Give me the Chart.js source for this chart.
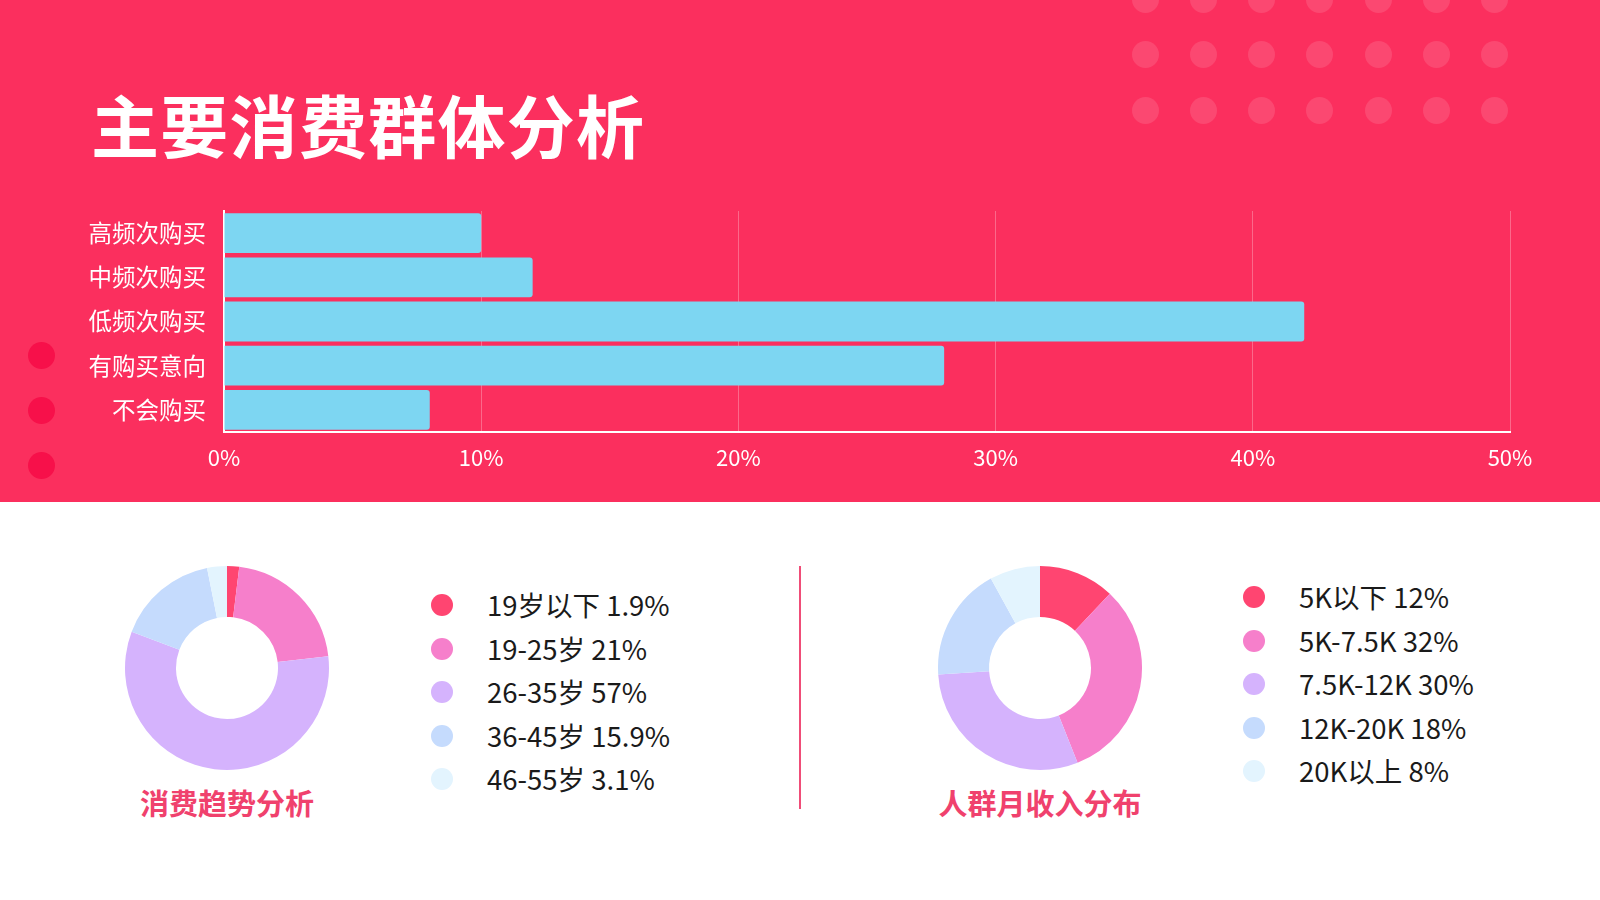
<!DOCTYPE html>
<html>
<head>
<meta charset="utf-8">
<script src="https://cdn.jsdelivr.net/npm/chart.js@4/dist/chart.umd.min.js"></script>
<style>
    html, body { margin: 0; padding: 0; }
    body {
        width: 1600px; height: 900px; position: relative; overflow: hidden;
        background: #ffffff;
        font-family: "Noto Sans CJK SC", "Noto Sans", sans-serif;
    }
    #band { position: absolute; left: 0; top: 0; width: 1600px; height: 502px; background: #fb2f5e; }
    #title {
        position: absolute; left: 91px; top: 79px; margin: 0;
        font-size: 68px; font-weight: 700; color: #ffffff; letter-spacing: 1.3px; line-height: 90px;
    }
    .dot { position: absolute; border-radius: 50%; }
    #barWrap { position: absolute; left: 0; top: 0; width: 1600px; height: 502px; }
    .donutWrap { position: absolute; width: 210px; height: 210px; }
    .donutTitle {
        position: absolute; width: 300px; text-align: center;
        font-size: 29px; font-weight: 700; color: #f0416d; line-height: 36px;
    }
    .legend { position: absolute; margin: 0; padding: 0; list-style: none; }
    .legend li {
        position: relative; height: 43.5px; line-height: 43.5px;
        font-size: 27.5px; color: #1a1a1a; padding-left: 56px; white-space: nowrap;
    }
    .legend li span {
        position: absolute; left: 0; top: 11px; width: 22px; height: 22px; border-radius: 50%;
    }
    #divider { position: absolute; left: 799px; top: 566px; width: 2px; height: 243px; background: #f04d78; }
</style>
</head>
<body>
<div id="band"></div>
<div id="dots"></div>
<h1 id="title">主要消费群体分析</h1>
<div id="barWrap"><canvas id="barChart"></canvas></div>

<div class="donutWrap" style="left:122px; top:563px;"><canvas id="ageChart"></canvas></div>
<div class="donutTitle" style="left:77px; top:784px;">消费趋势分析</div>
<ul class="legend" id="ageLegend" style="left:431px; top:583px;"></ul>

<div id="divider"></div>

<div class="donutWrap" style="left:935px; top:563px;"><canvas id="incomeChart"></canvas></div>
<div class="donutTitle" style="left:890px; top:784px;">人群月收入分布</div>
<ul class="legend" id="incomeLegend" style="left:1243px; top:575px;"></ul>

<script>
// 购买频次
var buyLabels = ['高频次购买', '中频次购买', '低频次购买', '有购买意向', '不会购买'];
var buyValues = [10, 12, 42, 28, 8];
var buyTicks = [0, 10, 20, 30, 40, 50];

// 年龄分布
var ageLabels = ['19岁以下', '19-25岁', '26-35岁', '36-45岁', '46-55岁'];
var ageValues = [1.9, 21, 57, 15.9, 3.1];

// 月收入分布
var incomeLabels = ['5K以下', '5K-7.5K', '7.5K-12K', '12K-20K', '20K以上'];
var incomeValues = [12, 32, 30, 18, 8];

var sliceColors = ['#ff4571', '#f67fcb', '#d5b3fd', '#c5dbfd', '#e3f4fe'];
var font = '"Noto Sans CJK SC", "Noto Sans", sans-serif';

// background decoration dots
var dotBox = document.getElementById('dots');
function addDot(x, y, r, color) {
    var d = document.createElement('div');
    d.className = 'dot';
    d.style.left = (x - r) + 'px';
    d.style.top = (y - r) + 'px';
    d.style.width = d.style.height = (2 * r) + 'px';
    d.style.background = color;
    dotBox.appendChild(d);
}
for (var row = 0; row < 3; row++) {
    for (var col = 0; col < 7; col++) {
        addDot(1145 + col * 58.3, -1 + row * 55.6, 13.5, 'rgba(255,255,255,0.12)');
    }
}
for (var k = 0; k < 3; k++) {
    addDot(41.5, 355 + k * 55.3, 13.5, '#f7104a');
}
dotBox.style.position = 'absolute';
dotBox.style.left = '0px';
dotBox.style.top = '0px';

// bar chart
new Chart(document.getElementById('barChart'), {
    type: 'bar',
    data: {
        labels: buyLabels,
        datasets: [{
            data: buyValues,
            backgroundColor: '#7dd6f2',
            borderRadius: 3,
            borderSkipped: 'start',
            barPercentage: 0.9,
            categoryPercentage: 1.0
        }]
    },
    options: {
        indexAxis: 'y',
        responsive: true,
        maintainAspectRatio: false,
        animation: false,
        layout: { padding: { left: 0, right: 90, top: 211, bottom: 30 } },
        plugins: { legend: { display: false }, tooltip: { enabled: false } },
        scales: {
            x: {
                min: 0,
                max: 50,
                afterBuildTicks: function(scale) {
                    scale.ticks = buyTicks.map(function(v) { return { value: v }; });
                },
                afterFit: function(scale) { scale.height = 40; },
                grid: { color: 'rgba(255,255,255,0.28)', lineWidth: 1, drawTicks: false },
                border: { display: true, color: '#ffffff', width: 2 },
                ticks: {
                    color: '#ffffff',
                    padding: 12,
                    font: { family: font, size: 22 },
                    callback: function(v) { return v + '%'; }
                }
            },
            y: {
                afterFit: function(scale) { scale.width = 224; },
                grid: { display: false, drawTicks: false },
                border: { display: true, color: '#ffffff', width: 2 },
                ticks: {
                    color: '#ffffff',
                    padding: 18,
                    font: { family: font, size: 23.5 }
                }
            }
        }
    }
});

function donut(id, labels, values) {
    new Chart(document.getElementById(id), {
        type: 'doughnut',
        data: {
            labels: labels,
            datasets: [{ data: values, backgroundColor: sliceColors, borderWidth: 0 }]
        },
        options: {
            responsive: true,
            maintainAspectRatio: false,
            animation: false,
            cutout: '50%',
            layout: { padding: 3 },
            plugins: { legend: { display: false }, tooltip: { enabled: false } }
        }
    });
}

function legend(id, labels, values) {
    var ul = document.getElementById(id);
    for (var i = 0; i < labels.length; i++) {
        var li = document.createElement('li');
        var sw = document.createElement('span');
        sw.style.background = sliceColors[i];
        li.appendChild(sw);
        li.appendChild(document.createTextNode(labels[i] + ' ' + values[i] + '%'));
        ul.appendChild(li);
    }
}

donut('ageChart', ageLabels, ageValues);
donut('incomeChart', incomeLabels, incomeValues);
legend('ageLegend', ageLabels, ageValues);
legend('incomeLegend', incomeLabels, incomeValues);
</script>
</body>
</html>
